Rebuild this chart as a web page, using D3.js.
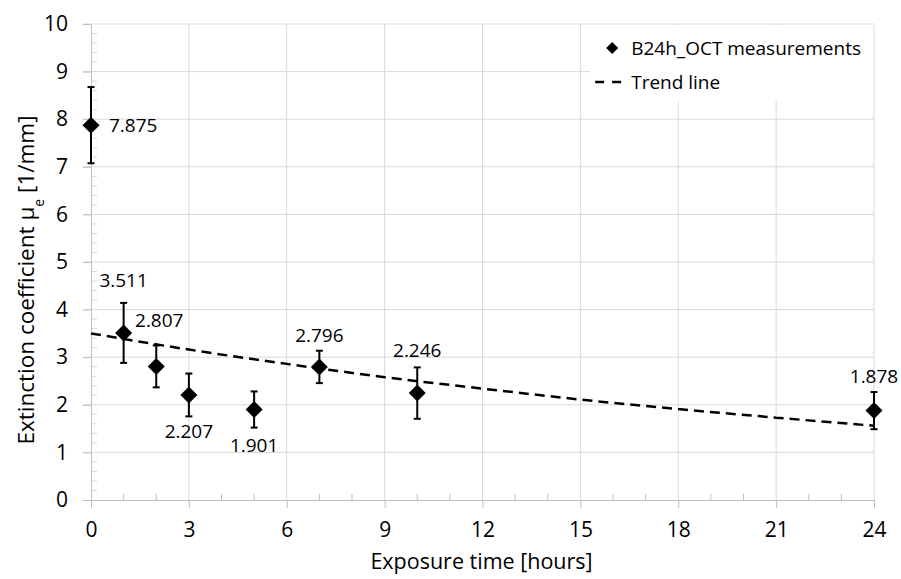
<!DOCTYPE html>
<html>
<head>
<meta charset="utf-8">
<script src="https://cdn.jsdelivr.net/npm/d3@7"></script>
<style>
  body { margin: 0; background: #fff; }
  svg text { font-family: "Open Sans", sans-serif; fill: #000; }
</style>
</head>
<body>
<div id="chart"></div>
<script>
// measurements
const hours = [0, 1, 2, 3, 5, 7, 10, 24];
const extinction = [7.875, 3.511, 2.807, 2.207, 1.901, 2.796, 2.246, 1.878];
const errors = [0.80, 0.63, 0.44, 0.45, 0.38, 0.34, 0.54, 0.39];

// trend line
const trendHours = [0, 3, 6, 9, 12, 15, 18, 21, 24];
const trendValues = [3.50, 3.16, 2.86, 2.58, 2.34, 2.11, 1.91, 1.73, 1.56];

const xTicks = [0, 3, 6, 9, 12, 15, 18, 21, 24];
const yTicks = [0, 1, 2, 3, 4, 5, 6, 7, 8, 9, 10];

// label offsets from the point [dx, dy, anchor]
const labelPlace = [
  [18, 7, 'start'], [0, -46, 'middle'], [3, -39, 'middle'], [0, 43, 'middle'],
  [0, 42, 'middle'], [0, -25, 'middle'], [0, -36, 'middle'], [0, -28, 'middle']
];

const width = 901, height = 579;
const margin = { left: 91, right: 27, top: 24, bottom: 79 };
const innerW = width - margin.left - margin.right;
const innerH = height - margin.top - margin.bottom;

const svg = d3.select('#chart').append('svg')
  .attr('width', width).attr('height', height);

const g = svg.append('g')
  .attr('transform', 'translate(' + margin.left + ',' + margin.top + ')');

const x = d3.scaleLinear().domain([0, 24]).range([0, innerW]);
const y = d3.scaleLinear().domain([0, 10]).range([innerH, 0]);

// gridlines
g.append('g').selectAll('line').data(xTicks.slice(1)).join('line')
  .attr('x1', d => x(d)).attr('x2', d => x(d))
  .attr('y1', 0).attr('y2', innerH)
  .style('stroke', '#d9d9d9').style('stroke-width', 1);
g.append('g').selectAll('line').data(yTicks.slice(1)).join('line')
  .attr('x1', -8).attr('x2', innerW)
  .attr('y1', d => y(d)).attr('y2', d => y(d))
  .style('stroke', '#d9d9d9').style('stroke-width', 1);

// legend box sits over the grid
const legend = g.append('g').attr('transform', 'translate(' + (x(15.3) ) + ',1)');

// minor ticks
const yMinor = d3.range(0, 50).map(i => i / 5).filter(v => v % 1 !== 0);
g.append('g').selectAll('line').data(yMinor).join('line')
  .attr('x1', 0).attr('x2', 6)
  .attr('y1', d => y(d)).attr('y2', d => y(d))
  .style('stroke', '#d9d9d9');
const xMinor = d3.range(1, 24).filter(v => v % 3 !== 0);
g.append('g').selectAll('line').data(xMinor).join('line')
  .attr('x1', d => x(d)).attr('x2', d => x(d))
  .attr('y1', innerH).attr('y2', innerH - 6)
  .style('stroke', '#bfbfbf');

// axes
const xAxis = g.append('g').attr('transform', 'translate(0,' + innerH + ')')
  .call(d3.axisBottom(x).tickValues(xTicks).tickSize(8).tickPadding(14));
const yAxis = g.append('g')
  .call(d3.axisLeft(y).tickValues(yTicks).tickSize(8).tickPadding(15));
[xAxis, yAxis].forEach(a => {
  a.select('.domain').style('stroke', '#bfbfbf');
  a.selectAll('.tick line').style('stroke', '#bfbfbf');
  a.selectAll('.tick text').style('font-size', '21px').style('font-family', '"Open Sans", sans-serif');
});

// trend line
g.append('path')
  .datum(trendHours.map((h, i) => [h, trendValues[i]]))
  .attr('d', d3.line().x(d => x(d[0])).y(d => y(d[1])).curve(d3.curveMonotoneX))
  .style('fill', 'none').style('stroke', '#000')
  .style('stroke-width', 2.5).style('stroke-dasharray', '10,6');

// error bars
const pts = hours.map((h, i) => ({ h, v: extinction[i], e: errors[i], p: labelPlace[i] }));
const bars = g.append('g').selectAll('g').data(pts).join('g')
  .style('stroke', '#000').style('stroke-width', 2);
bars.append('line')
  .attr('x1', d => x(d.h)).attr('x2', d => x(d.h))
  .attr('y1', d => y(d.v + d.e)).attr('y2', d => y(d.v - d.e));
bars.append('line')
  .attr('x1', d => x(d.h) - 3.5).attr('x2', d => x(d.h) + 3.5)
  .attr('y1', d => y(d.v + d.e)).attr('y2', d => y(d.v + d.e));
bars.append('line')
  .attr('x1', d => x(d.h) - 3.5).attr('x2', d => x(d.h) + 3.5)
  .attr('y1', d => y(d.v - d.e)).attr('y2', d => y(d.v - d.e));

// markers
const diamond = s => 'M0,' + (-s) + 'L' + s + ',0L0,' + s + 'L' + (-s) + ',0Z';
g.append('g').selectAll('path').data(pts).join('path')
  .attr('transform', d => 'translate(' + x(d.h) + ',' + y(d.v) + ')')
  .attr('d', diamond(8.5))
  .style('fill', '#000');

// value labels
g.append('g').selectAll('text').data(pts).join('text')
  .attr('x', d => x(d.h) + d.p[0])
  .attr('y', d => y(d.v) + d.p[1])
  .attr('text-anchor', d => d.p[2])
  .style('font-size', '19px')
  .text(d => d3.format('.3f')(d.v));

// legend
legend.append('rect')
  .attr('x', 0).attr('y', 0).attr('width', 283).attr('height', 76)
  .style('fill', '#fff');
legend.append('path')
  .attr('transform', 'translate(22,23)')
  .attr('d', diamond(6))
  .style('fill', '#000');
legend.append('text').attr('x', 41).attr('y', 30)
  .style('font-size', '19px').text('B24h_OCT measurements');
legend.append('line')
  .attr('x1', 5).attr('x2', 32).attr('y1', 57).attr('y2', 57)
  .style('stroke', '#000').style('stroke-width', 2.5).style('stroke-dasharray', '9,8');
legend.append('text').attr('x', 41).attr('y', 64)
  .style('font-size', '19px').text('Trend line');

// axis titles
svg.append('text')
  .attr('x', margin.left + innerW / 2 - 1).attr('y', 569)
  .attr('text-anchor', 'middle')
  .style('font-size', '21.5px')
  .text('Exposure time [hours]');

const yTitle = svg.append('text')
  .attr('transform', 'translate(34,280) rotate(-90)')
  .attr('text-anchor', 'middle')
  .style('font-size', '22.5px');
yTitle.append('tspan').text('Extinction coefficient μ');
yTitle.append('tspan').attr('baseline-shift', 'sub').style('font-size', '14px').text('e');
yTitle.append('tspan').text(' [1/mm]');
</script>
</body>
</html>
